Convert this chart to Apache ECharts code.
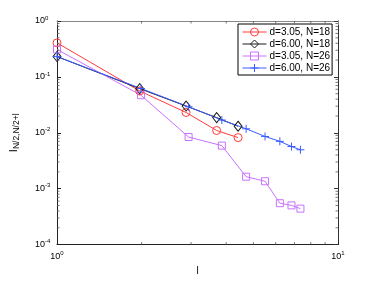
<!DOCTYPE html>
<html>
<head>
<meta charset="utf-8">
<script src="https://cdn.jsdelivr.net/npm/echarts@6/dist/echarts.min.js"></script>
<style>
html,body{margin:0;padding:0;background:#fff;}
#c{width:374px;height:281px;}
</style>
</head>
<body>
<div id="c"></div>
<script>
// ---- data ----
const seriesNames = ['d=3.05, N=18', 'd=6.00, N=18', 'd=3.05, N=26', 'd=6.00, N=26'];
const xN18 = [1, 1.97, 2.88, 3.70, 4.41];
const xN26 = [1, 1.99, 2.94, 3.86, 4.71, 5.50, 6.21, 6.83, 7.35];
const yRed = [0.406, 0.056, 0.0231, 0.0110, 0.0082];
const yBlack = [0.231, 0.0616, 0.0301, 0.0187, 0.0131];
const yMagenta = [0.31, 0.047, 0.0084, 0.0059, 0.00164, 0.00136, 0.00055, 0.000503, 0.00044];
const yBlue = [0.231, 0.062, 0.0292, 0.0169, 0.0118, 0.0086, 0.00703, 0.00568, 0.00497];
const xMinorTicks = [2, 3, 4, 5, 6, 7, 8, 9];
const yMinorTicks = [
  2e-4, 3e-4, 4e-4, 5e-4, 6e-4, 7e-4, 8e-4, 9e-4,
  2e-3, 3e-3, 4e-3, 5e-3, 6e-3, 7e-3, 8e-3, 9e-3,
  2e-2, 3e-2, 4e-2, 5e-2, 6e-2, 7e-2, 8e-2, 9e-2,
  0.2, 0.3, 0.4, 0.5, 0.6, 0.7, 0.8, 0.9
];
const xMin = 1, xMax = 10, yMin = 1e-4, yMax = 1;

const FONT = 'Liberation Sans, Arial, Helvetica, sans-serif';
const zip = (xs, ys) => xs.map((x, i) => [x, ys[i]]);
const expLabel = v => {
  const e = Math.round(Math.log10(v));
  return '{b|10}{s|' + (e < 0 ? '-' + (-e) : e) + '}';
};
const labelRich = {
  b: { fontSize: 9, fontFamily: FONT, color: '#000' },
  s: { fontSize: 6, fontFamily: FONT, color: '#000', padding: [0, 0, 6, 0] }
};

const chart = echarts.init(document.getElementById('c'), null, { renderer: 'canvas' });

function mkSeries(name, xs, ys, color, symbol, size) {
  return {
    name: name, type: 'line', data: zip(xs, ys),
    symbol: symbol, symbolSize: size, showAllSymbol: true,
    lineStyle: { color: color, width: 1 },
    itemStyle: { color: 'rgba(255,255,255,0)', borderColor: color, borderWidth: 1 },
    emphasis: { disabled: true }, animation: false, z: 3
  };
}

function tickSeries(values, isX) {
  return {
    type: 'custom', silent: true, animation: false, z: 4,
    xAxisIndex: 0, yAxisIndex: 0,
    data: values.map(v => isX ? [v, yMin] : [xMin, v]),
    renderItem: function (params, api) {
      const L = 2.5;
      const children = [];
      if (isX) {
        const x = api.value(0);
        const b = api.coord([x, yMin]);
        const t = api.coord([x, yMax]);
        children.push({ type: 'line', shape: { x1: b[0], y1: b[1], x2: b[0], y2: b[1] - L }, style: { stroke: '#555', lineWidth: 0.8 } });
        children.push({ type: 'line', shape: { x1: t[0], y1: t[1], x2: t[0], y2: t[1] + L }, style: { stroke: '#555', lineWidth: 0.8 } });
      } else {
        const y = api.value(1);
        const l = api.coord([xMin, y]);
        const r = api.coord([xMax, y]);
        children.push({ type: 'line', shape: { x1: l[0], y1: l[1], x2: l[0] + L, y2: l[1] }, style: { stroke: '#555', lineWidth: 0.8 } });
        children.push({ type: 'line', shape: { x1: r[0], y1: r[1], x2: r[0] - L, y2: r[1] }, style: { stroke: '#555', lineWidth: 0.8 } });
      }
      return { type: 'group', children: children };
    }
  };
}

const option = {
  backgroundColor: '#fff',
  animation: false,
  grid: { left: 49, right: 36, top: 21, bottom: 32, containLabel: false },
  xAxis: [
    {
      type: 'log', logBase: 10, min: xMin, max: xMax, position: 'bottom',
      name: 'l', nameLocation: 'middle', nameGap: 21,
      nameTextStyle: { fontSize: 10, fontFamily: FONT, color: '#000' },
      axisLine: { lineStyle: { color: '#222', width: 1 } },
      axisTick: { inside: true, length: 4, lineStyle: { color: '#222' } },
      axisLabel: { formatter: expLabel, rich: labelRich, margin: 6 },
      splitLine: { show: false }
    },
    {
      type: 'log', logBase: 10, min: xMin, max: xMax, position: 'top',
      axisLine: { lineStyle: { color: '#888', width: 1 } },
      axisTick: { inside: true, length: 4, lineStyle: { color: '#888' } },
      axisLabel: { show: false }, splitLine: { show: false }
    }
  ],
  yAxis: [
    {
      type: 'log', logBase: 10, min: yMin, max: yMax, position: 'left',
      name: '{m|I}{sub|N/2,N/2+l}', nameLocation: 'middle', nameGap: 36, nameRotate: 90,
      nameTextStyle: {
        rich: {
          m: { fontSize: 11, fontFamily: FONT, color: '#000' },
          sub: { fontSize: 8.5, fontFamily: FONT, color: '#000', padding: [6, 0, 0, 0] }
        }
      },
      axisLine: { lineStyle: { color: '#222', width: 1 } },
      axisTick: { inside: true, length: 4, lineStyle: { color: '#222' } },
      axisLabel: { formatter: expLabel, rich: labelRich, margin: 22, align: 'left' },
      splitLine: { show: false }
    },
    {
      type: 'log', logBase: 10, min: yMin, max: yMax, position: 'right',
      axisLine: { lineStyle: { color: '#333', width: 1 } },
      axisTick: { inside: true, length: 4, lineStyle: { color: '#333' } },
      axisLabel: { show: false }, splitLine: { show: false }
    }
  ],
  legend: {
    orient: 'vertical', left: 238, top: 24, width: 90,
    data: seriesNames,
    backgroundColor: '#fff', borderColor: '#000', borderWidth: 1,
    padding: [3, 2, 2, 4],
    itemWidth: 24, itemHeight: 10, itemGap: 2,
    lineStyle: { width: 1 },
    itemStyle: { borderWidth: 1 },
    textStyle: { fontSize: 10, fontFamily: FONT, color: '#000', lineHeight: 10, padding: [0, 0, 0, -2] },
    selectedMode: false
  },
  series: [
    mkSeries(seriesNames[0], xN18, yRed, '#ff3b3b', 'circle', 8),
    mkSeries(seriesNames[1], xN18, yBlack, '#1a1a1a', 'diamond', [8, 10]),
    mkSeries(seriesNames[2], xN26, yMagenta, '#c873ff', 'rect', 7),
    mkSeries(seriesNames[3], xN26, yBlue, '#3a5cff', 'path://M5,0L5,10M0,5L10,5', 8),
    tickSeries(xMinorTicks, true),
    tickSeries(yMinorTicks, false)
  ]
};
chart.setOption(option);
</script>
</body>
</html>
